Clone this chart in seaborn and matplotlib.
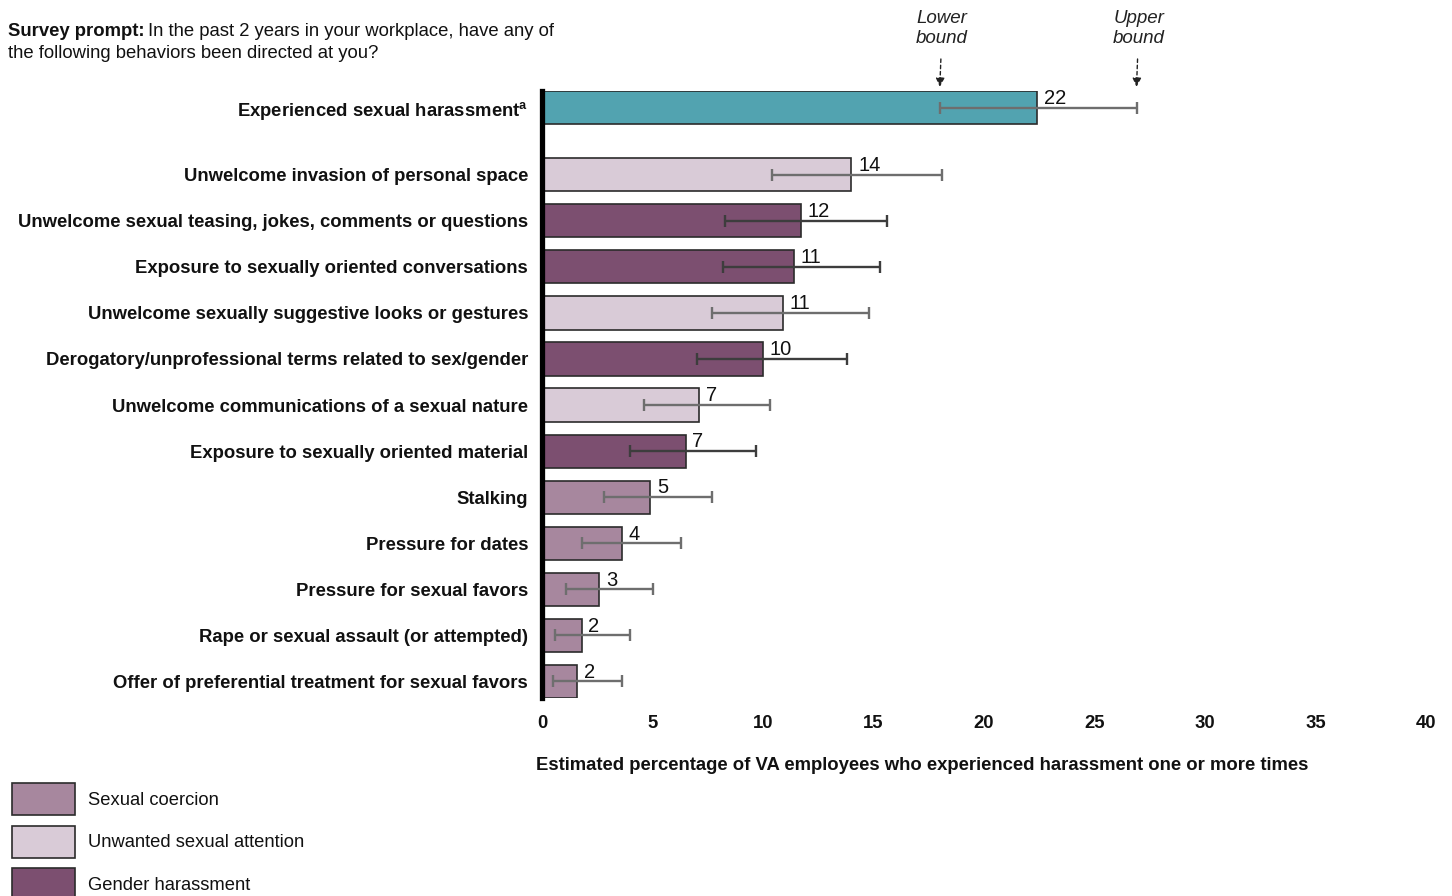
import matplotlib
matplotlib.use("Agg")
import matplotlib.pyplot as plt
import seaborn as sns
import pandas as pd
from matplotlib.patches import Rectangle

# values (percent of VA employees)
behaviors = [
    r"Experienced sexual harassment$^{\mathbf{a}}$",
    "Unwelcome invasion of personal space",
    "Unwelcome sexual teasing, jokes, comments or questions",
    "Exposure to sexually oriented conversations",
    "Unwelcome sexually suggestive looks or gestures",
    "Derogatory/unprofessional terms related to sex/gender",
    "Unwelcome communications of a sexual nature",
    "Exposure to sexually oriented material",
    "Stalking",
    "Pressure for dates",
    "Pressure for sexual favors",
    "Rape or sexual assault (or attempted)",
    "Offer of preferential treatment for sexual favors",
]
estimates = [22.4, 14.0, 11.7, 11.4, 10.9, 10.0, 7.1, 6.5, 4.9, 3.6, 2.6, 1.8, 1.6]
lower = [18.0, 10.4, 8.3, 8.2, 7.7, 7.0, 4.6, 4.0, 2.8, 1.8, 1.1, 0.6, 0.5]
upper = [26.9, 18.1, 15.6, 15.3, 14.8, 13.8, 10.3, 9.7, 7.7, 6.3, 5.0, 4.0, 3.6]
shown = [22, 14, 12, 11, 11, 10, 7, 7, 5, 4, 3, 2, 2]
groups = [
    "Overall",
    "Unwanted sexual attention",
    "Gender harassment",
    "Gender harassment",
    "Unwanted sexual attention",
    "Gender harassment",
    "Unwanted sexual attention",
    "Gender harassment",
    "Sexual coercion",
    "Sexual coercion",
    "Sexual coercion",
    "Sexual coercion",
    "Sexual coercion",
]
legend_groups = ["Sexual coercion", "Unwanted sexual attention", "Gender harassment"]

colors = {
    "Overall": "#52a3b0",
    "Gender harassment": "#7c4f70",
    "Unwanted sexual attention": "#d9cbd7",
    "Sexual coercion": "#a7879e",
}
err_colors = {
    "Overall": "#6e6e6e",
    "Gender harassment": "#3d3d3d",
    "Unwanted sexual attention": "#6e6e6e",
    "Sexual coercion": "#6e6e6e",
}

sns.set_theme(style="white")
plt.rcParams["font.family"] = ["Liberation Sans", "DejaVu Sans"]
plt.rcParams["mathtext.fontset"] = "custom"
plt.rcParams["mathtext.bf"] = "Liberation Sans:bold"
plt.rcParams["mathtext.rm"] = "Liberation Sans"

# first bar sits apart from the rest
pos = [0.0] + [1.46 + i for i in range(len(behaviors) - 1)]

df = pd.DataFrame({"behavior": behaviors, "estimate": estimates, "pos": pos, "group": groups})

fig = plt.figure(figsize=(14.52, 8.96), dpi=100)
ax = fig.add_axes([0.3733, 0.2210, 0.6088, 0.6775])

sns.barplot(data=df, x="estimate", y="pos", hue="group", palette=colors, orient="y",
            native_scale=True, dodge=False, width=0.72, saturation=1, edgecolor="#2b2b2b",
            linewidth=1.2, errorbar=None, legend=False, ax=ax)

for i in range(len(behaviors)):
    ax.errorbar(estimates[i], pos[i], xerr=[[estimates[i] - lower[i]], [upper[i] - estimates[i]]],
                fmt="none", ecolor=err_colors[groups[i]], elinewidth=1.7, capsize=4.3, capthick=1.7)
    ax.text(estimates[i] + 0.3, pos[i] - 0.2, str(shown[i]), fontsize=14.5, va="center", ha="left",
            color="#111111")

ax.set_xlim(0, 40)
ax.set_ylim(pos[-1] + 0.36, -0.36)
ax.set_xticks(range(0, 41, 5))
ax.set_yticks(pos)
ax.set_yticklabels(behaviors, fontsize=13.3, fontweight="bold", color="#111111")
ax.tick_params(axis="x", length=0, pad=12, labelsize=13.3, labelcolor="#111111")
for t in ax.get_xticklabels():
    t.set_fontweight("bold")
ax.tick_params(axis="y", length=0, pad=10)

for s in ["top", "right", "bottom"]:
    ax.spines[s].set_visible(False)
ax.spines["left"].set_linewidth(3.8)
ax.spines["left"].set_color("black")

ax.set_ylabel("")
ax.set_xlabel("Estimated percentage of VA employees who experienced harassment one or more times",
              fontsize=13.3, fontweight="bold", color="#111111", loc="left")
ax.xaxis.set_label_coords(-0.007, -0.097)

# bound call-outs on the first bar
for xval, txt in [(lower[0], "Lower\nbound"), (upper[0], "Upper\nbound")]:
    ax.annotate(txt, xy=(xval, -0.45), xytext=(xval + 0.1, -1.71), textcoords="data",
                ha="center", va="center", fontsize=13.5, style="italic", color="#222222",
                linespacing=1.25, annotation_clip=False,
                arrowprops=dict(arrowstyle="-|>", linestyle=(0, (2.5, 2)), color="#222222",
                                lw=1, mutation_scale=13, shrinkA=6, shrinkB=0))

# survey prompt: bold lead-in followed by regular text
renderer = fig.canvas.get_renderer()
lead = fig.text(8 / 1452, 1 - 32 / 896, "Survey prompt:", fontsize=13.3, fontweight="bold",
                ha="left", va="center", color="#111111")
bb = lead.get_window_extent(renderer)
fig.text(bb.x1 / 1452 + 4 / 1452, 1 - 32 / 896, "In the past 2 years in your workplace, have any of",
         fontsize=13.3, ha="left", va="center", color="#111111")
fig.text(8 / 1452, 1 - 53 / 896, "the following behaviors been directed at you?",
         fontsize=13.3, ha="left", va="center", color="#111111")

# legend boxes
for j, g in enumerate(legend_groups):
    ytop = 783 + j * 42.5
    fig.add_artist(Rectangle((12 / 1452, 1 - (ytop + 32) / 896), 63 / 1452, 32 / 896,
                             transform=fig.transFigure, facecolor=colors[g],
                             edgecolor="#2b2b2b", linewidth=1.2))
    fig.text(88 / 1452, 1 - (ytop + 17) / 896, g, fontsize=13.2, va="center", ha="left",
             color="#111111")

fig.savefig("out.png", dpi=100)
